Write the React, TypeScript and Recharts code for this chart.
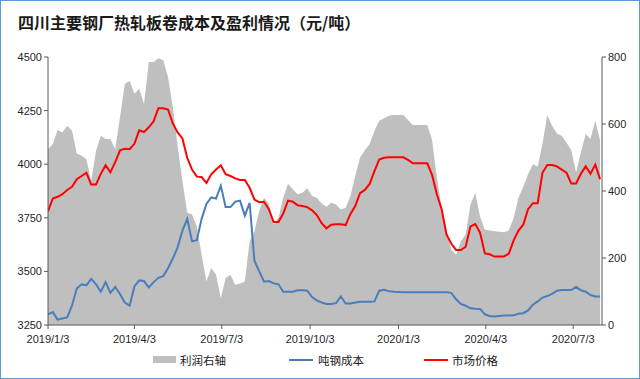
import { Area, ComposedChart, Line, XAxis, YAxis } from "recharts";

// x positions: one sample every 5 days from 2019/1/3
const tickDays = [0, 90, 181, 273, 365, 456, 547];
const tickLabels = ["2019/1/3", "2019/4/3", "2019/7/3", "2019/10/3", "2020/1/3", "2020/4/3", "2020/7/3"];
const leftTicks = [3250, 3500, 3750, 4000, 4250, 4500];
const rightTicks = [0, 200, 400, 600, 800];

// 利润 (right axis)
const profit = [
  525, 540, 582, 575, 595, 580, 512, 505, 495, 430,
  520, 565, 555, 555, 525, 620, 720, 728, 690, 705,
  660, 785, 785, 796, 790, 740, 650, 535, 430, 335,
  330, 295, 210, 130, 170, 150, 80, 140, 150, 120,
  124, 130, 250, 280, 340, 380, 362, 300, 320, 380,
  422, 405, 390, 395, 408, 385, 380, 363, 353, 365,
  360, 345, 350, 385, 445, 500, 522, 540, 580, 610,
  617, 625, 627, 627, 627, 612, 597, 597, 597, 597,
  552, 440, 350, 285, 225, 210, 250, 270, 360, 395,
  323, 284, 282, 280, 278, 277, 282, 320, 380, 413,
  450, 480, 473, 540, 627, 595, 572, 565, 545, 522,
  455, 515, 570, 555, 610, 550,
];

// 吨钢成本
const cost = [
  3300, 3310, 3275, 3280, 3285, 3340, 3420, 3440, 3435, 3465,
  3440, 3405, 3450, 3400, 3428, 3395, 3355, 3340, 3430, 3458,
  3455, 3425, 3450, 3470, 3478, 3515, 3560, 3612, 3690, 3745,
  3640, 3646, 3745, 3815, 3845, 3840, 3900, 3800, 3800, 3825,
  3830, 3760, 3820, 3550, 3500, 3452, 3455, 3445, 3440, 3405,
  3405, 3405, 3412, 3412, 3410, 3380, 3365, 3355, 3348, 3348,
  3352, 3383, 3350, 3350, 3355, 3358, 3358, 3358, 3360, 3410,
  3414, 3408, 3405, 3404, 3403, 3403, 3403, 3403, 3403, 3403,
  3403, 3403, 3403, 3403, 3400, 3370, 3348, 3340, 3328, 3326,
  3325, 3300, 3292, 3290, 3292, 3294, 3294, 3295, 3302, 3305,
  3318, 3345, 3360, 3378, 3385, 3395, 3410, 3413, 3413, 3413,
  3428, 3412, 3405, 3390, 3383, 3383,
];

// 市场价格
const price = [
  3780, 3840, 3848, 3860, 3880, 3895, 3930, 3945, 3960, 3905,
  3905, 3955, 3995, 3962, 4010, 4065, 4072, 4070, 4095, 4158,
  4150, 4172, 4200, 4261, 4261, 4255, 4190, 4148, 4120, 4030,
  3975, 3942, 3940, 3912, 3953, 3975, 3995, 3953, 3945, 3934,
  3926, 3926, 3890, 3835, 3823, 3825, 3790, 3730, 3730, 3770,
  3830, 3825, 3808, 3805, 3800, 3785, 3763, 3725, 3701, 3718,
  3720, 3720, 3716, 3768, 3805, 3865, 3880, 3908, 3968, 4022,
  4030, 4032, 4032, 4032, 4032, 4020, 4004, 4004, 4004, 4004,
  3950, 3860, 3790, 3672, 3630, 3600, 3600, 3615, 3710, 3721,
  3680, 3584, 3580, 3569, 3569, 3570, 3583, 3645, 3690, 3718,
  3790, 3818, 3818, 3960, 3996, 3996, 3990, 3975, 3960, 3910,
  3910, 3955, 3990, 3955, 3998, 3930,
];

const days = profit.map((_, i) => i * 5);
const data = days.map((day, i) => ({ day, profit: profit[i], cost: cost[i], price: price[i] }));

const axisColor = "#595959";
const tickStyle = { fontSize: 11, fill: "#262626", fontFamily: "'Liberation Sans', 'Noto Sans CJK SC', sans-serif" };
const cjk = "'Noto Sans CJK SC', sans-serif";

export default function App() {
  return (
    <div style={{ position: "fixed", left: 0, top: 0, width: 640, height: 379, background: "#fff" }}>
      <div
        style={{
          position: "absolute",
          left: 18,
          top: 10,
          fontFamily: cjk,
          fontSize: 16,
          fontWeight: 700,
          color: "#1a1a1a",
          lineHeight: "24px",
          whiteSpace: "nowrap",
        }}
      >
        四川主要钢厂热轧板卷成本及盈利情况（元/吨）
      </div>
      <ComposedChart width={640} height={379} data={data} margin={{ top: 57, right: 0, bottom: 0, left: 0 }}>
        <XAxis
          dataKey="day"
          type="number"
          domain={[0, 577]}
          ticks={tickDays}
          tickFormatter={(v: number) => tickLabels[tickDays.indexOf(v)] ?? ""}
          height={54}
          tick={tickStyle}
          stroke={axisColor}
          tickSize={4}
          tickMargin={6}
          allowDataOverflow
        />
        <YAxis
          yAxisId="left"
          domain={[3250, 4500]}
          ticks={leftTicks}
          width={48}
          tick={tickStyle}
          stroke={axisColor}
          tickSize={4}
          tickMargin={2}
          interval={0}
        />
        <YAxis
          yAxisId="right"
          orientation="right"
          domain={[0, 800]}
          ticks={rightTicks}
          width={38}
          tick={tickStyle}
          stroke={axisColor}
          tickSize={4}
          tickMargin={2}
          interval={0}
        />
        <Area
          yAxisId="right"
          dataKey="profit"
          type="linear"
          fill="#bfbfbf"
          fillOpacity={1}
          stroke="none"
          isAnimationActive={false}
        />
        <Line
          yAxisId="left"
          dataKey="cost"
          type="linear"
          stroke="#4a7ebb"
          strokeWidth={2}
          dot={false}
          isAnimationActive={false}
        />
        <Line
          yAxisId="left"
          dataKey="price"
          type="linear"
          stroke="#ff0000"
          strokeWidth={2}
          dot={false}
          isAnimationActive={false}
        />
      </ComposedChart>
      <div
        style={{
          position: "absolute",
          top: 352,
          left: 0,
          width: 640,
          fontFamily: cjk,
          fontSize: 11.5,
          color: "#1a1a1a",
          lineHeight: "16px",
        }}
      >
        <div style={{ position: "absolute", left: 153, top: 4, width: 23, height: 7, background: "#bfbfbf" }} />
        <div style={{ position: "absolute", left: 180, top: 0 }}>利润右轴</div>
        <div style={{ position: "absolute", left: 289, top: 7, width: 24, height: 2, background: "#4a7ebb" }} />
        <div style={{ position: "absolute", left: 318, top: 0 }}>吨钢成本</div>
        <div style={{ position: "absolute", left: 424, top: 7, width: 24, height: 2, background: "#ff0000" }} />
        <div style={{ position: "absolute", left: 452, top: 0 }}>市场价格</div>
      </div>
      <div
        style={{
          position: "absolute",
          inset: 0,
          border: "1px solid #5b9bd5",
          pointerEvents: "none",
        }}
      />
    </div>
  );
}
